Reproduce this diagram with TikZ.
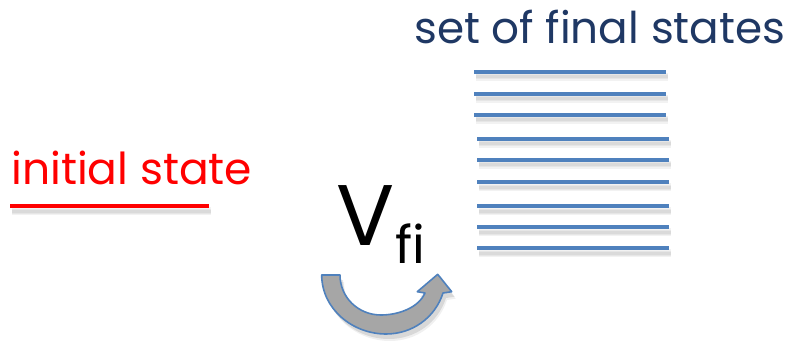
\documentclass[tikz,border=0pt]{standalone}
\usepackage{fontspec}
\setmainfont{Poppins}
\definecolor{lvl}{HTML}{4F81BD}
\definecolor{ttl}{HTML}{1F3864}
\definecolor{arrfill}{HTML}{A6A6A6}
\tikzset{
  level/.style={draw=lvl, line width=4.5pt},
  levelshadow/.style={draw=black, opacity=0.05, line width=#1},
  initlevel/.style={draw=red, line width=4.5pt},
  lbl/.style={inner sep=0pt, anchor=base west},
}
\newcommand{\shadowline}[2]{%
  \draw[levelshadow=8pt] ([shift={(2,5)}]#1) -- ([shift={(2,5)}]#2);
  \draw[levelshadow=5pt] ([shift={(2,5)}]#1) -- ([shift={(2,5)}]#2);
  \draw[levelshadow=3pt] ([shift={(2,5)}]#1) -- ([shift={(2,5)}]#2);
}
\begin{document}
\begin{tikzpicture}[x=1pt,y=-1pt]
\useasboundingbox (0,0) rectangle (798,342);
% texts
\node[lbl, text=ttl, font=\fontsize{50}{50}\selectfont] (ftitle) at (414,44) {\resizebox{371pt}{!}{set of final states}};
\node[lbl, text=red, font=\fontsize{45}{45}\selectfont] (ititle) at (11,184) {\resizebox{241pt}{!}{initial state}};
\node[lbl, font=\fontsize{86}{86}\selectfont] (vlab) at (336,245) {V};
\node[lbl, font=\fontsize{52}{52}\selectfont] (sub) at (395,263) {fi};
% initial level
\coordinate (i1) at (10,206);
\coordinate (i2) at (209,206);
\shadowline{i1}{i2}
\draw[initlevel] (i1) -- (i2);
% final levels
\foreach \n/\xa/\xb/\y in {1/474/666/72, 2/474/666/94, 3/474/666/115, 4/477/669/139, 5/477/669/160, 6/477/669/182, 7/477/669/206, 8/477/669/227, 9/477/669/248}{
  \coordinate (a\n) at (\xa,\y);
  \coordinate (b\n) at (\xb,\y);
  \shadowline{a\n}{b\n}
  \draw[level] (a\n) -- (b\n);
}
% curved arrow
\def\arrowpath{(321.7,275) .. controls (321.7,308.7) and (352.3,334) .. (386,334)
  .. controls (412,334) and (434.9,318.1) .. (443,293)
  -- (451.7,291.7) -- (437.7,274.3) -- (417.3,291.7) -- (425,293)
  .. controls (418.3,308.2) and (397.6,315) .. (381,315)
  .. controls (358.4,315) and (340,297.6) .. (340,275) -- cycle}
\fill[black, opacity=0.10, shift={(3,5)}] \arrowpath;
\fill[black, opacity=0.06, shift={(4,7)}] \arrowpath;
\filldraw[fill=arrfill, draw=lvl, line width=1.6pt, line join=round] \arrowpath;
\end{tikzpicture}
\end{document}
